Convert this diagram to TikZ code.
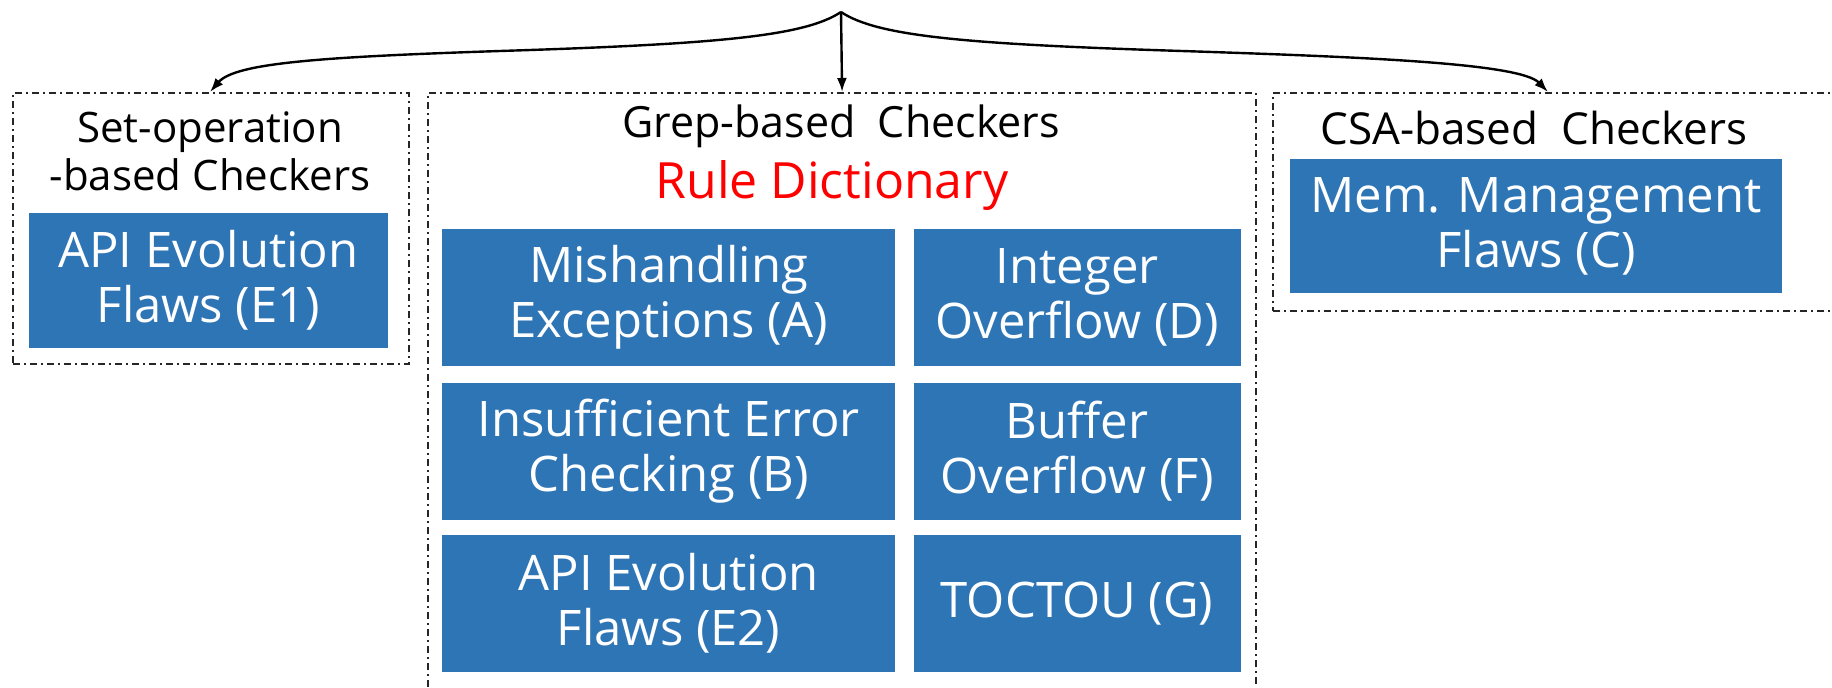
\documentclass[tikz,border=0pt]{standalone}
\usepackage{fontspec}
\setmainfont{Open Sans}
\usetikzlibrary{arrows.meta,positioning}
\definecolor{flawblue}{RGB}{46,117,182}
\tikzset{
  grpbox/.style={draw=black!85,line width=2.2pt,dash pattern=on 7pt off 4pt on 2pt off 4pt,rectangle,inner sep=0pt},
  flawblk/.style={rectangle,fill=flawblue,text=white,inner sep=0pt,align=center,font=\fontsize{49}{55}\selectfont},
  colablk/.style={flawblk,minimum width=453pt,minimum height=137pt},
  colbblk/.style={flawblk,minimum width=327pt,minimum height=137pt},
  ttl/.style={align=center,inner sep=0pt,font=\fontsize{42}{48}\selectfont},
  arr/.style={-{Latex[length=14pt,width=10pt]},line width=2.4pt}
}

\begin{document}
\begin{tikzpicture}[x=1pt,y=-1pt,node distance=16pt and 18pt]
  \useasboundingbox (0,0) rectangle (1832,688);
  \clip (0,0) rectangle (1832,688);
  % checker groups
  \node[grpbox,minimum width=396pt,minimum height=271pt,anchor=north west] (setbox) at (12,92) {};
  \node[grpbox,minimum width=828pt,minimum height=596pt,anchor=north west] (grepbox) at (427,92) {};
  \node[grpbox,minimum width=600pt,minimum height=218pt,anchor=north west] (csabox) at (1272,92) {};

  \node[ttl] (settitle) at (210,151) {Set-operation\\-based Checkers};
  \node[ttl,font=\fontsize{43}{48}\selectfont] (greptitle) at (841,126) {Grep-based~ Checkers};
  \node[ttl,text=red,font=\fontsize{50}{55}\selectfont] (ruledict) at (832,186) {Rule Dictionary};
  \node[ttl,font=\fontsize{44}{48}\selectfont] (csatitle) at (1534,128) {CSA-based~ Checkers};

  % flaw classes
  \node[flawblk,minimum width=359pt,minimum height=135pt] (e1) at (208.5,280.5) {API Evolution\\Flaws (E1)};
  \node[colablk,anchor=north west] (a) at (442,229) {Mishandling\\Exceptions (A)};
  \node[colablk,below=16pt of a] (b) {Insufficient Error\\Checking (B)};
  \node[colablk,below=15pt of b] (e2) {API Evolution\\Flaws (E2)};
  \node[colbblk,right=18pt of a] (d) {Integer\\Overflow (D)};
  \node[colbblk,right=18pt of b] (f) {Buffer\\Overflow (F)};
  \node[colbblk,right=18pt of e2] (g) {TOCTOU (G)};
  \node[flawblk,minimum width=492pt,minimum height=134pt] (c) at (1536,226) {Mem. Management\\Flaws (C)};

  % brace
  \coordinate (top) at (841,12);
  \coordinate (csain) at (1548,92);
  \draw[arr] (top) .. controls (805,36) and (720,44) .. (500,51) .. controls (320,57) and (235,63) .. (settitle |- setbox.north);
  \draw[arr] (top) -- (grepbox.north);
  \draw[arr] (top) .. controls (877,36) and (962,44) .. (1182,51) .. controls (1362,57) and (1520,63) .. (csain);
\end{tikzpicture}
\end{document}
